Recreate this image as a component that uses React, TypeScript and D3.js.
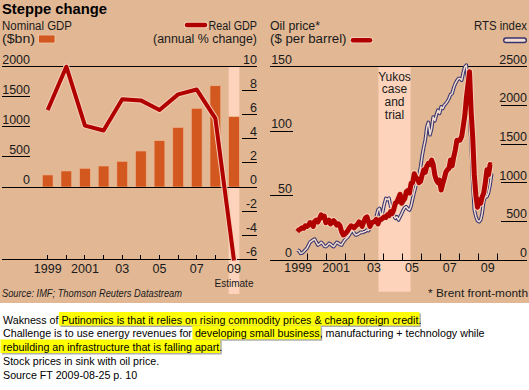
import { useEffect, useRef } from "react";
import * as d3 from "d3";

// ---- left panel: Russian GDP ----
const gdpYears = [1999, 2000, 2001, 2002, 2003, 2004, 2005, 2006, 2007, 2008, 2009];
const nominalGdp = [200, 266, 311, 349, 427, 598, 770, 990, 1307, 1683, 1168]; // $bn
const realGdp = [6.4, 10.0, 5.1, 4.7, 7.3, 7.2, 6.4, 7.7, 8.1, 5.7, -6.1]; // annual % change
const nominalTicks = [0, 500, 1000, 1500, 2000];
const realTicks = [-6, -4, -2, 0, 2, 4, 6, 8, 10];
const gdpLabelYears = [1999, 2001, 2003, 2005, 2007, 2009];
const gdpLabels = ["1999", "2001", "03", "05", "07", "09"];

// ---- right panel: oil price and RTS index, monthly Jun 1999 - Sep 2009 ----
const oilPrice = [
  22, 23.5, 24, 25, 24.6, 26.5, 26, // 1999 (Jun-Dec)
  27, 29, 28.5, 26, 30, 31, 29.5, 32, 35, 33, 34, 29, // 2000
  29.7, 31, 28, 29, 30.5, 29, 27, 28, 26.5, 22, 19.4, 20, // 2001
  21.5, 23, 25, 26.5, 26, 25, 26.5, 27.5, 29.5, 28.5, 26, 29.5, // 2002
  32.4, 33.5, 30, 26, 28.5, 29.5, 30, 31.5, 28, 31, 31.5, 32.4, // 2003
  33.6, 33, 35, 34.5, 37.5, 36, 39, 44, 45, 48, 51, 44, // 2004
  46, 47.9, 53, 54, 52, 59.5, 60, 67, 64, 63, 60, 61, // 2005
  66, 70, 68, 73, 75, 74, 77.6, 74, 66, 62, 60, 62, // 2006
  54.3, 59, 63, 68, 70, 71, 77.6, 73, 80, 85.4, 93, 93, // 2007
  93, 96, 103.5, 112, 126, 136, 146, 115, 95, 66, 50, 41, // 2008
  46.6, 44, 49, 52, 60, 70, 66, 74, 73.7, // 2009 (Jan-Sep)
];
const rtsIndex = [
  129, 120, 86, 90, 107, 130, 150, // 1999 (Jun-Dec)
  190, 230, 245, 260, 271, 230, 194, 205, 228, 210, 180, 172, // 2000
  190, 215, 205, 185, 172, 200, 228, 215, 200, 194, 230, 258, // 2001
  280, 301, 330, 360, 388, 345, 323, 330, 340, 358, 355, 365, // 2002
  370, 388, 380, 410, 440, 480, 517, 560, 646, 668, 560, 620, // 2003
  720, 797, 780, 800, 700, 646, 581, 539, 560, 517, 560, 600, // 2004
  646, 680, 689, 660, 646, 700, 790, 880, 960, 1000, 1100, 1206, // 2005
  1350, 1464, 1550, 1720, 1780, 1620, 1700, 1850, 1800, 1880, 1938, 1895, // 2006
  1981, 1960, 2000, 2024, 2050, 2089, 2140, 2153, 2230, 2282, 2320, 2347, // 2007
  2347, 2326, 2420, 2498, 2520, 2150, 1850, 1500, 1000, 650, 560, 510, // 2008
  495, 520, 600, 760, 818, 818, 870, 969, 1120, // 2009 (Jan-Sep)
];
const oilTicks = [0, 50, 100, 150];
const rtsTicks = [0, 500, 1000, 1500, 2000, 2500];
const marketTickYears = [2000, 2001, 2002, 2003, 2004, 2005, 2006, 2007, 2008, 2009, 2010];
const marketLabelYears = [1999, 2001, 2003, 2005, 2007, 2009];
const marketLabels = ["1999", "2001", "03", "05", "07", "09"];
const yukosPeriod = [new Date(2003, 8, 25), new Date(2005, 5, 5)];
const yukosText = ["Yukos", "case", "and", "trial"];

// ---- notes below the chart ----
const noteLines: Array<Array<{ text: string; mark?: boolean }>> = [
  [
    { text: "Wakness of " },
    { text: "Putinomics is that it relies on rising commodity prices & cheap foreign credit", mark: true },
    { text: "." },
  ],
  [
    { text: "Challenge is to use energy revenues for " },
    { text: "developing small business", mark: true },
    { text: ", manufacturing + technology while" },
  ],
  [{ text: "rebuilding an infrastructure that is falling apart", mark: true }, { text: "." }],
  [{ text: "Stock prices in sink with oil price." }],
  [{ text: "Source FT 2009-08-25 p. 10" }],
];

const FONT = "'Liberation Sans', Arial, Helvetica, sans-serif";
const BG = "#e1b794";
const PINK = "#fdd4bb";
const ORANGE = "#d2581f";
const RED = "#b00000";
const HALO = "#f6cfb6";
const NAVY = "#37356f";
const INK = "#1a1a1a";

const crisp = (v: number) => Math.floor(v) + 0.5;

export default function App() {
  const svgRef = useRef<SVGSVGElement>(null);

  useEffect(() => {
    if (!svgRef.current) return;
    const svg = d3.select(svgRef.current);
    svg.selectAll("*").remove();

    svg.append("rect").attr("width", 529).attr("height", 303).attr("fill", BG);

    const label = (x: number, y: number, t: string, size = 12, anchor = "start", width = 0) => {
      const el = svg
        .append("text")
        .attr("x", x)
        .attr("y", y)
        .attr("text-anchor", anchor)
        .attr("font-family", FONT)
        .attr("font-size", size)
        .attr("fill", INK)
        .text(t);
      // squeeze to the width of the narrow newspaper face
      if (width) el.attr("textLength", width).attr("lengthAdjust", "spacingAndGlyphs");
      return el;
    };

    const hline = (x1: number, x2: number, y: number) =>
      svg
        .append("line")
        .attr("x1", x1)
        .attr("x2", x2)
        .attr("y1", crisp(y))
        .attr("y2", crisp(y))
        .attr("stroke", "#000")
        .attr("stroke-width", 1);

    // Title
    label(2, 13.5, "Steppe change", 15, "start", 105).attr("font-weight", "bold").attr("fill", "#000");

    // ===== Left panel =====
    const xL = d3.scaleLinear().domain([1999, 2009]).range([47.7, 234]);
    const yN = d3.scaleLinear().domain([0, 2000]).range([187, 66.7]);
    const yR = d3.scaleLinear().domain([-6, 10]).range([259.2, 66.7]);
    const barW = 10.7;

    // 2009 estimate band
    svg
      .append("rect")
      .attr("x", xL(2009) - barW / 2)
      .attr("y", yN(2000))
      .attr("width", barW)
      .attr("height", 294 - yN(2000))
      .attr("fill", PINK);

    label(2, 30, "Nominal GDP", 12, "start", 70);
    label(2, 42.5, "($bn)", 12, "start", 33);
    svg
      .append("rect")
      .attr("x", 38.5)
      .attr("y", 35)
      .attr("width", 16.5)
      .attr("height", 8)
      .attr("fill", ORANGE)
      .attr("stroke", "#f3caa9")
      .attr("stroke-width", 0.8);
    label(257, 30, "Real GDP", 12, "end", 48.5);
    label(257, 42.5, "(annual % change)", 12, "end", 104);
    svg.append("line").attr("x1", 187).attr("x2", 205).attr("y1", 25).attr("y2", 25)
      .attr("stroke", HALO).attr("stroke-width", 6.5).attr("stroke-linecap", "round");
    svg.append("line").attr("x1", 187).attr("x2", 205).attr("y1", 25).attr("y2", 25)
      .attr("stroke", RED).attr("stroke-width", 4.5).attr("stroke-linecap", "round");

    // bars
    svg
      .append("g")
      .selectAll("rect")
      .data(gdpYears)
      .join("rect")
      .attr("x", (d) => xL(d) - barW / 2)
      .attr("y", (_, i) => yN(nominalGdp[i]))
      .attr("width", barW)
      .attr("height", (_, i) => yN(0) - yN(nominalGdp[i]))
      .attr("fill", ORANGE)
      .attr("stroke", "#eeb48e")
      .attr("stroke-width", 0.6);

    // grid + axes
    hline(2, 257, yN(2000));
    hline(2, 257, yN(0));
    const axisL = yR(-6);
    hline(2, 257, axisL);

    nominalTicks.forEach((v) => {
      if (v !== 0 && v !== 2000) hline(2, 30, yN(v));
      label(30, yN(v) - 3, String(v), 12.5, "end");
    });
    realTicks.forEach((v) => {
      if (v !== 0 && v !== 10 && v !== -6) hline(242, 257, yR(v));
      label(257, yR(v) - 3, String(v), 12.5, "end");
    });

    svg
      .append("g")
      .selectAll("line")
      .data(gdpYears)
      .join("line")
      .attr("x1", (d) => crisp(xL(d)))
      .attr("x2", (d) => crisp(xL(d)))
      .attr("y1", crisp(axisL) - 4.5)
      .attr("y2", crisp(axisL))
      .attr("stroke", "#000");
    gdpLabelYears.forEach((y, i) => label(xL(y), 273, gdpLabels[i], 12.5, "middle"));
    label(xL(2009), 286.5, "Estimate", 10, "middle");

    // real GDP line
    const gdpLine = d3
      .line<number>()
      .x((_, i) => xL(gdpYears[i]))
      .y((d) => yR(d));
    svg.append("path").attr("d", gdpLine(realGdp)).attr("fill", "none")
      .attr("stroke", HALO).attr("stroke-width", 6).attr("stroke-linejoin", "round");
    svg.append("path").attr("d", gdpLine(realGdp)).attr("fill", "none")
      .attr("stroke", RED).attr("stroke-width", 4).attr("stroke-linejoin", "round");

    label(2, 297, "Source: IMF; Thomson Reuters Datastream", 10, "start", 180).attr("font-style", "italic");

    // ===== Right panel =====
    const xM = d3
      .scaleTime()
      .domain([new Date(2000, 0, 1), new Date(2010, 0, 1)])
      .range([307.7, 497.3]);
    const yO = d3.scaleLinear().domain([0, 150]).range([260, 66.7]);
    const yS = d3.scaleLinear().domain([0, 2500]).range([260, 66.7]);
    const months = d3.timeMonth.range(new Date(1999, 5, 1), new Date(2009, 9, 1)).map(
      (d) => new Date(d.getFullYear(), d.getMonth(), 15)
    );

    svg
      .append("rect")
      .attr("x", xM(yukosPeriod[0]))
      .attr("y", yO(150))
      .attr("width", xM(yukosPeriod[1]) - xM(yukosPeriod[0]))
      .attr("height", 291.7 - yO(150))
      .attr("fill", PINK);
    const yukosX = (xM(yukosPeriod[0]) + xM(yukosPeriod[1])) / 2;
    yukosText.forEach((t, i) => label(yukosX, 80.5 + i * 12.8, t, 12, "middle"));

    label(270, 30, "Oil price*", 12, "start", 50);
    label(270, 42.5, "($ per barrel)", 12, "start", 76.5);
    svg.append("line").attr("x1", 353).attr("x2", 370).attr("y1", 40.3).attr("y2", 40.3)
      .attr("stroke", HALO).attr("stroke-width", 6.5).attr("stroke-linecap", "round");
    svg.append("line").attr("x1", 353).attr("x2", 370).attr("y1", 40.3).attr("y2", 40.3)
      .attr("stroke", RED).attr("stroke-width", 4.5).attr("stroke-linecap", "round");
    label(527, 30, "RTS index", 12, "end", 53);
    svg.append("line").attr("x1", 506).attr("x2", 524).attr("y1", 40.3).attr("y2", 40.3)
      .attr("stroke", NAVY).attr("stroke-width", 6).attr("stroke-linecap", "round");
    svg.append("line").attr("x1", 506).attr("x2", 524).attr("y1", 40.3).attr("y2", 40.3)
      .attr("stroke", "#f4dccf").attr("stroke-width", 3).attr("stroke-linecap", "round");

    hline(270, 527, yO(150));
    hline(270, 527, yO(0));
    oilTicks.forEach((v) => {
      if (v !== 0 && v !== 150) hline(270, 293, yO(v));
      label(292, yO(v) - 3, String(v), 12.5, "end");
    });
    rtsTicks.forEach((v) => {
      if (v !== 0 && v !== 2500) hline(501, 527, yS(v));
      label(527, yS(v) - 3, String(v), 12.5, "end");
    });

    svg
      .append("g")
      .selectAll("line")
      .data(marketTickYears)
      .join("line")
      .attr("x1", (d) => crisp(xM(new Date(d, 0, 1))))
      .attr("x2", (d) => crisp(xM(new Date(d, 0, 1))))
      .attr("y1", crisp(yO(0)) - 7)
      .attr("y2", crisp(yO(0)))
      .attr("stroke", "#000");
    marketLabelYears.forEach((y, i) =>
      label(xM(new Date(y, 6, 1)), 272, marketLabels[i], 12.5, "middle")
    );

    const rtsLine = d3
      .line<number>()
      .x((_, i) => xM(months[i]))
      .y((d) => yS(d));
    svg.append("path").attr("d", rtsLine(rtsIndex)).attr("fill", "none")
      .attr("stroke", NAVY).attr("stroke-width", 3.6).attr("stroke-linejoin", "round");
    svg.append("path").attr("d", rtsLine(rtsIndex)).attr("fill", "none")
      .attr("stroke", "#f4dccf").attr("stroke-width", 1.5).attr("stroke-linejoin", "round");

    const oilLine = d3
      .line<number>()
      .x((_, i) => xM(months[i]))
      .y((d) => yO(d));
    svg.append("path").attr("d", oilLine(oilPrice)).attr("fill", "none")
      .attr("stroke", HALO).attr("stroke-width", 7).attr("stroke-linejoin", "round");
    svg.append("path").attr("d", oilLine(oilPrice)).attr("fill", "none")
      .attr("stroke", RED).attr("stroke-width", 5).attr("stroke-linejoin", "round");

    label(528, 297, "* Brent front-month", 10.5, "end", 100);

    // ===== Notes with highlighter marks =====
    const marks = svg.append("g");
    const notes = svg.append("g");
    noteLines.forEach((segs, li) => {
      const base = 323.5 + li * 13.75;
      const t = notes
        .append("text")
        .attr("x", 3)
        .attr("y", base)
        .attr("font-family", FONT)
        .attr("font-size", 10.7)
        .attr("fill", "#000");
      segs.forEach((s) => t.append("tspan").text(s.text));
      const node = t.node() as SVGTextElement;
      let idx = 0;
      segs.forEach((s) => {
        if (s.mark) {
          const x0 = node.getStartPositionOfChar(idx).x - 2.5;
          const x1 = node.getEndPositionOfChar(idx + s.text.length - 1).x + 1;
          marks.append("rect").attr("x", x0 + 1.5).attr("y", base - 10).attr("width", x1 - x0)
            .attr("height", 13.5).attr("fill", "#8c8c8c").attr("opacity", 0.7);
          marks.append("rect").attr("x", x0).attr("y", base - 11.5).attr("width", x1 - x0)
            .attr("height", 13.5).attr("fill", "#ffff00");
        }
        idx += s.text.length;
      });
    });
  }, []);

  return (
    <svg
      ref={svgRef}
      width={529}
      height={390}
      style={{ position: "absolute", left: 0, top: 0, background: "#fff" }}
    />
  );
}
